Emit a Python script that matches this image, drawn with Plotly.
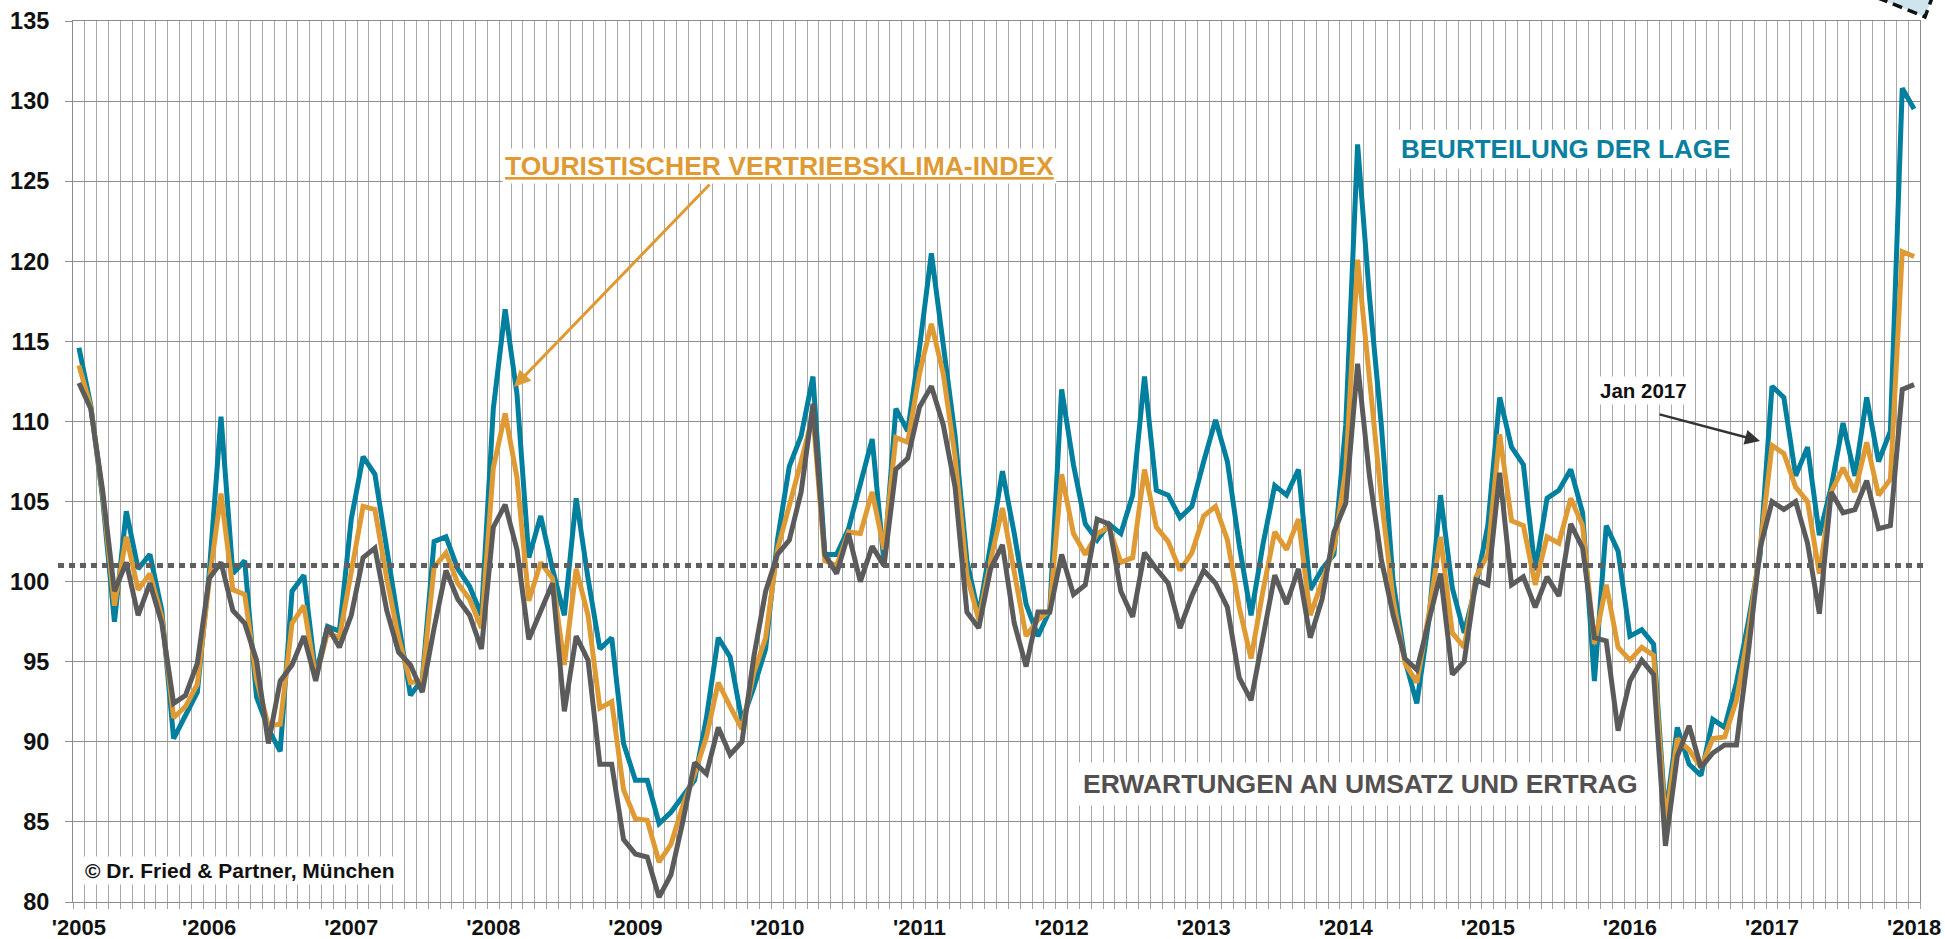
import plotly.graph_objects as go

# ---------------- data ----------------
# 156 monthly categories, Feb 2005 .. Jan 2018
months = [f"{2005 + (m // 12)}-{m % 12 + 1:02d}" for m in range(1, 157)]

tick_months = ["2005-02", "2006-01", "2007-01", "2008-01", "2009-01", "2010-01", "2011-01",
               "2012-01", "2013-01", "2014-01", "2015-01", "2016-01", "2017-01", "2018-01"]
tick_labels = ["'2005", "'2006", "'2007", "'2008", "'2009", "'2010", "'2011",
               "'2012", "'2013", "'2014", "'2015", "'2016", "'2017", "'2018"]

lage = [114.6, 111.0, 105.2, 97.5, 104.4, 100.8, 101.7, 98.2, 90.2, 91.6, 93.1, 100.5,
        110.3, 100.5, 101.3, 92.8, 90.8, 89.4, 99.4, 100.4, 94.2, 97.2, 96.9, 103.9,
        107.8, 106.7, 101.9, 97.4, 92.9, 93.9, 102.5, 102.8, 100.8, 99.7, 97.9, 110.8,
        117.0, 111.7, 101.5, 104.1, 100.8, 97.9, 105.2, 100.2, 95.8, 96.5, 89.9, 87.6,
        87.6, 84.9, 85.6, 86.6, 87.6, 91.5, 96.5, 95.3, 91.3, 93.4, 95.8, 102.6,
        107.2, 109.1, 112.8, 101.7, 101.7, 103.3, 106.2, 108.9, 101.2, 110.8, 109.4, 114.6,
        120.5, 115.0, 109.1, 101.3, 97.9, 102.3, 106.9, 103.0, 98.6, 96.6, 98.2, 112.0,
        107.3, 103.6, 102.6, 103.6, 103.0, 105.4, 112.8, 105.7, 105.4, 104.0, 104.7, 107.5,
        110.1, 107.5, 102.3, 97.9, 102.3, 106.0, 105.4, 107.0, 99.5, 100.8, 101.7, 109.8,
        127.3, 117.8, 109.8, 100.0, 95.1, 92.4, 97.5, 105.4, 99.6, 96.8, 99.8, 103.5,
        111.5, 108.4, 107.3, 100.7, 105.2, 105.7, 107.0, 104.3, 93.8, 103.5, 101.9, 96.6,
        97.0, 96.1, 85.3, 90.9, 88.6, 87.9, 91.4, 90.9, 93.7, 97.5, 101.7, 112.2,
        111.5, 106.6, 108.4, 102.9, 105.9, 109.9, 106.6, 111.5, 107.5, 109.4, 130.8, 129.5]

index_tvki = [113.5, 110.9, 105.5, 98.5, 102.8, 99.5, 100.5, 97.8, 91.5, 92.2, 93.6, 100.0,
              105.5, 99.5, 99.2, 93.9, 91.0, 91.1, 97.4, 98.5, 94.0, 96.8, 96.5, 100.8,
              104.7, 104.5, 100.2, 96.5, 93.7, 93.8, 100.9, 101.8, 99.9, 98.9, 97.1, 107.1,
              110.5, 106.5, 98.8, 101.2, 100.2, 94.8, 100.8, 97.9, 92.1, 92.5, 87.0, 85.2,
              85.1, 82.5, 83.6, 86.0, 88.0, 90.3, 93.7, 92.2, 90.8, 94.3, 96.5, 102.0,
              104.7, 107.5, 110.4, 101.3, 101.0, 103.1, 103.0, 105.6, 102.0, 109.0, 108.7, 113.0,
              116.1, 113.0, 107.8, 100.4, 97.6, 101.3, 104.6, 100.4, 96.6, 97.6, 98.2, 106.7,
              103.0, 101.7, 103.0, 103.4, 101.2, 101.5, 107.0, 103.4, 102.5, 100.7, 101.8, 104.1,
              104.7, 102.6, 98.4, 95.2, 99.4, 103.1, 102.0, 103.9, 97.9, 100.0, 102.1, 107.0,
              120.1, 112.7, 105.2, 98.9, 94.9, 93.7, 97.9, 102.8, 96.8, 95.9, 100.3, 101.7,
              109.2, 103.8, 103.5, 99.8, 102.8, 102.4, 105.2, 103.5, 96.1, 99.8, 95.9, 95.1,
              95.9, 95.4, 84.9, 90.2, 89.5, 88.4, 90.2, 90.3, 92.6, 96.8, 102.1, 108.5,
              108.0, 105.9, 105.0, 100.5, 105.6, 107.1, 105.6, 108.7, 105.4, 106.4, 120.6, 120.3]

erwartungen = [112.4, 110.8, 105.7, 99.4, 101.2, 97.9, 99.9, 97.4, 92.4, 92.9, 94.9, 100.2,
               101.2, 98.2, 97.4, 95.1, 89.9, 93.8, 94.8, 96.6, 93.8, 97.2, 95.9, 97.9,
               101.5, 102.1, 98.2, 95.6, 94.8, 93.1, 97.1, 100.7, 98.9, 97.9, 95.8, 103.4,
               104.8, 102.0, 96.4, 98.2, 99.9, 91.9, 96.6, 95.1, 88.6, 88.6, 83.9, 83.0,
               82.8, 80.3, 81.7, 85.0, 88.7, 88.0, 90.9, 89.2, 90.0, 95.3, 99.4, 101.7,
               102.6, 105.6, 111.1, 101.7, 100.5, 103.0, 100.0, 102.2, 101.0, 107.0, 107.7, 110.9,
               112.2, 109.8, 105.9, 98.1, 97.1, 100.8, 102.3, 97.4, 94.7, 98.1, 98.1, 101.7,
               99.2, 99.8, 103.9, 103.6, 99.4, 97.8, 101.8, 100.8, 99.9, 97.1, 99.1, 100.7,
               99.9, 98.4, 94.0, 92.6, 96.5, 100.4, 98.6, 100.8, 96.5, 98.9, 103.1, 104.9,
               113.6, 106.6, 101.4, 97.9, 95.2, 94.5, 97.5, 100.5, 94.2, 95.0, 100.1, 99.8,
               106.8, 99.8, 100.3, 98.4, 100.3, 99.1, 103.6, 102.1, 96.5, 96.3, 90.7, 93.8,
               95.1, 94.2, 83.5, 89.1, 91.0, 88.4, 89.3, 89.8, 89.8, 95.6, 102.1, 105.0,
               104.5, 105.0, 102.4, 98.0, 105.6, 104.3, 104.5, 106.3, 103.3, 103.5, 112.0, 112.3]

reference_level = 101.0
y_ticks = [80, 85, 90, 95, 100, 105, 110, 115, 120, 125, 130, 135]

# ---------------- styling ----------------
BLUE = "#007f9f"
ORANGE = "#df9a33"
GRAY = "#5b5b5b"
FONT = "Liberation Sans, Arial, sans-serif"

FIG_W, FIG_H = 1945, 939
ML, MR, MT, MB = 73, 25, 21, 37
PW, PH = FIG_W - ML - MR, FIG_H - MT - MB


def px(X):   # page x pixel -> paper
    return (X - ML) / PW


def py(Y):   # page y pixel -> paper
    return (MT + PH - Y) / PH


ticktext = [tick_labels[tick_months.index(m)] if m in tick_months else "" for m in months]

fig = go.Figure()
for name, vals, col in [("Beurteilung der Lage", lage, BLUE),
                        ("Touristischer Vertriebsklima-Index", index_tvki, ORANGE),
                        ("Erwartungen an Umsatz und Ertrag", erwartungen, GRAY)]:
    fig.add_trace(go.Scatter(x=months, y=vals, mode="lines", name=name,
                             line=dict(color=col, width=5), hoverinfo="x+y"))

fig.update_layout(
    width=FIG_W, height=FIG_H,
    margin=dict(l=ML, r=MR, t=MT, b=MB, pad=0, autoexpand=False),
    paper_bgcolor="white", plot_bgcolor="white",
    showlegend=False,
    font=dict(family=FONT, color="#111111"),
)

fig.update_xaxes(
    type="category", range=[-0.5, len(months) - 0.5], automargin=False,
    tickmode="array", tickvals=months, ticktext=ticktext, tickangle=0,
    tickson="boundaries", ticks="outside", ticklen=6, tickcolor="#a0a0a0",
    showgrid=True, gridcolor="#a8a8a8", gridwidth=1,
    showline=True, linecolor="#8c8c8c", linewidth=1, mirror=True,
    tickfont=dict(family=FONT, size=22, color="#111111", weight=700),
    ticklabelstandoff=6, zeroline=False,
)
fig.update_yaxes(
    range=[80, 135], tickmode="array", tickvals=y_ticks, automargin=False,
    ticks="outside", ticklen=7, tickcolor="#8c8c8c",
    showgrid=True, gridcolor="#8f8f8f", gridwidth=1.2,
    showline=True, linecolor="#8c8c8c", linewidth=1, mirror=True,
    tickfont=dict(family=FONT, size=23.5, color="#111111", weight=700),
    ticklabelstandoff=11, zeroline=False,
)

# dotted reference line
fig.add_shape(type="line", xref="paper", yref="y",
              x0=px(58), x1=px(1928), y0=reference_level, y1=reference_level,
              line=dict(color="#5f5f5f", width=5, dash="6px,5px"), layer="above")

# corner artifact (dashed light-blue callout edge, top right)
fig.add_shape(type="path", xref="paper", yref="paper",
              path=f"M {px(1878)},{py(-2)} L {px(1925)},{py(17)} L {px(1932)},{py(-2)} Z",
              fillcolor="#cfe5ee", line=dict(color="rgba(0,0,0,0)", width=0), layer="above")
fig.add_shape(type="path", xref="paper", yref="paper",
              path=f"M {px(1878)},{py(-2)} L {px(1925)},{py(17)} L {px(1932)},{py(-2)}",
              line=dict(color="#111111", width=3.5, dash="10px,6px"), layer="above")

# labels
fig.add_annotation(xref="paper", yref="paper", x=px(779), y=py(166),
                   text="<b><u>TOURISTISCHER VERTRIEBSKLIMA-INDEX</u></b>",
                   showarrow=False, xanchor="center", yanchor="middle",
                   font=dict(family=FONT, size=26.5, color=ORANGE),
                   bgcolor="white", borderpad=2)
fig.add_annotation(xref="paper", yref="paper", x=px(1565), y=py(149),
                   text="<b>BEURTEILUNG DER LAGE</b>",
                   showarrow=False, xanchor="center", yanchor="middle",
                   font=dict(family=FONT, size=26, color="#0b7fa0"),
                   bgcolor="white", borderpad=4)
fig.add_annotation(xref="paper", yref="paper", x=px(1360), y=py(784),
                   text="<b>ERWARTUNGEN AN UMSATZ UND ERTRAG</b>",
                   showarrow=False, xanchor="center", yanchor="middle",
                   font=dict(family=FONT, size=26.5, color="#545050"),
                   bgcolor="white", borderpad=6)
fig.add_annotation(xref="paper", yref="paper", x=px(82), y=py(870),
                   text="<b>© Dr. Fried &amp; Partner, München</b>",
                   showarrow=False, xanchor="left", yanchor="middle",
                   font=dict(family=FONT, size=21, color="#111111"),
                   bgcolor="white", borderpad=2)
fig.add_annotation(xref="paper", yref="paper", x=px(1597), y=py(390),
                   text="<b>Jan 2017</b>",
                   showarrow=False, xanchor="left", yanchor="middle",
                   font=dict(family=FONT, size=20.5, color="#111111"),
                   bgcolor="white", borderpad=2)

# arrows
fig.add_annotation(xref="paper", yref="paper", x=px(514), y=py(387),
                   ax=197, ay=-204, axref="pixel", ayref="pixel", text="",
                   showarrow=True, arrowhead=2, arrowsize=1.1, arrowwidth=3,
                   arrowcolor=ORANGE, standoff=0)
fig.add_annotation(xref="paper", yref="paper", x=px(1760), y=py(441),
                   ax=-102, ay=-27, axref="pixel", ayref="pixel", text="",
                   showarrow=True, arrowhead=2, arrowsize=1.2, arrowwidth=2.5,
                   arrowcolor="#333333", standoff=0)

fig.write_html(
    "out.html",
    config={"displayModeBar": False},
    post_script="document.body.style.margin='0';document.body.style.overflow='hidden';",
)
